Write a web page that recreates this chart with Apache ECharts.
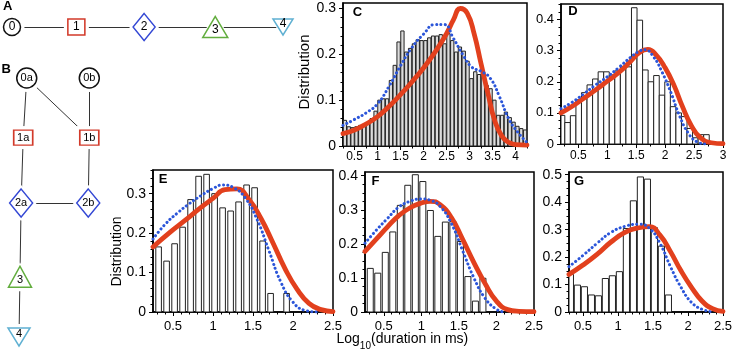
<!DOCTYPE html>
<html>
<head>
<meta charset="utf-8">
<script src="https://cdn.jsdelivr.net/npm/echarts@6.0.0/dist/echarts.min.js"></script>
<style>
html,body{margin:0;padding:0;background:#fff;}
#chart{width:733px;height:353px;}
</style>
</head>
<body>
<div id="chart"></div>
<script>
// ================= DATA =================
// --- Panel A: linear chain of states ---
const nodesA = ['0', '1', '2', '3', '4'];
const nodePosA = [0, 0.95, 1.95, 3, 4];
const nodeKindA = [0, 1, 2, 3, 4];
const linksA = [['0', '1'], ['1', '2'], ['2', '3'], ['3', '4']];

// --- Panel B: branched scheme ---
const nodesB = ['0a', '0b', '1a', '1b', '2a', '2b', '3', '4'];
const nodeColumnB = [0.11, 1, 0.06, 1, 0.03, 0.985, 0.014, 0];
const nodeLevelB = [0, 0, 0.92, 0.92, 1.93, 1.93, 3.07, 4];
const nodeKindB = [0, 0, 1, 1, 2, 2, 3, 4];
const linksB = [['0a', '1a'], ['0a', '1b'], ['0b', '1b'], ['1a', '2a'], ['1b', '2b'], ['2a', '2b'], ['2a', '3'], ['3', '4']];

// --- Panel C ---
const binStartC = 0.25, binWidthC = 1 / 12;
const histC = [0.056, 0.042, 0.040, 0.042, 0.045, 0.046, 0.050, 0.060,
  0.076, 0.100, 0.103, 0.103, 0.143, 0.176, 0.227, 0.251,
  0.205, 0.213, 0.223, 0.232, 0.230, 0.230, 0.236, 0.240,
  0.240, 0.243, 0.223, 0.245, 0.230, 0.205, 0.216, 0.207,
  0.185, 0.147, 0.162, 0.156, 0.160, 0.132, 0.125, 0.100,
  0.067, 0.067, 0.074, 0.062, 0.052, 0.043, 0.038, 0.035];
const redC = [[0.25, 0.027], [0.5, 0.035], [0.75, 0.048], [1.0, 0.064], [1.25, 0.086], [1.5, 0.112], [1.75, 0.14], [2.0, 0.17], [2.25, 0.205], [2.5, 0.245], [2.65, 0.275], [2.8, 0.3], [2.95, 0.29], [3.1, 0.245], [3.25, 0.18], [3.4, 0.115], [3.55, 0.055], [3.7, 0.022], [3.85, 0.008], [4.0, 0.003], [4.25, 0.002]];
const blueC = [[0.25, 0.045], [0.5, 0.058], [0.75, 0.072], [1.0, 0.092], [1.25, 0.13], [1.5, 0.175], [1.75, 0.215], [2.0, 0.244], [2.25, 0.265], [2.45, 0.265], [2.65, 0.235], [2.85, 0.2], [3.05, 0.172], [3.25, 0.163], [3.45, 0.148], [3.65, 0.108], [3.85, 0.06], [4.05, 0.03], [4.25, 0.008]];
const xTicksC = [0.5, 1, 1.5, 2, 2.5, 3, 3.5, 4];
const yTicksC = [0, 0.1, 0.2, 0.3];

// --- Panel D ---
const binStartD = 0.17, binWidthD = 0.096;
const histD = [0.092, 0.069, 0.091, 0.142, 0.165, 0.19, 0.209, 0.232, 0.232, 0.222,
  0.235, 0.248, 0.248, 0.438, 0.398, 0.238, 0.2, 0.22, 0.157, 0.2,
  0.12, 0.1, 0.088, 0.05, 0.02, 0.03, 0.03];
const redD = [[0.2, 0.1], [0.4, 0.122], [0.6, 0.148], [0.8, 0.174], [1.0, 0.202], [1.2, 0.23], [1.4, 0.265], [1.55, 0.293], [1.7, 0.304], [1.85, 0.285], [2.0, 0.245], [2.15, 0.19], [2.3, 0.12], [2.45, 0.06], [2.6, 0.022], [2.8, 0.004], [3.0, 0.001]];
const blueD = [[0.2, 0.114], [0.4, 0.135], [0.6, 0.162], [0.8, 0.19], [1.0, 0.216], [1.2, 0.246], [1.4, 0.278], [1.55, 0.298], [1.65, 0.303], [1.8, 0.28], [1.95, 0.23], [2.1, 0.165], [2.25, 0.09], [2.4, 0.035], [2.55, 0.007], [2.7, 0]];
const xTicksD = [0.5, 1, 1.5, 2, 2.5, 3];
const yTicksD = [0, 0.1, 0.2, 0.3, 0.4];

// --- Panel E ---
const binStartE = 0.27, binWidthE = 0.1;
const histE = [0.165, 0.129, 0.173, 0.215, 0.285, 0.344, 0.349, 0.30, 0.264, 0.256, 0.279, 0.322, 0.315, 0.18, 0.047, 0, 0.047];
const redE = [[0.25, 0.165], [0.45, 0.2], [0.65, 0.232], [0.85, 0.265], [1.0, 0.288], [1.15, 0.31], [1.3, 0.312], [1.45, 0.285], [1.6, 0.237], [1.75, 0.175], [1.9, 0.11], [2.05, 0.058], [2.2, 0.022], [2.35, 0.006], [2.5, 0.001]];
const blueE = [[0.25, 0.185], [0.4, 0.222], [0.55, 0.25], [0.7, 0.274], [0.85, 0.295], [1.0, 0.313], [1.12, 0.322], [1.25, 0.316], [1.4, 0.29], [1.55, 0.235], [1.7, 0.155], [1.85, 0.075], [2.0, 0.025], [2.15, 0.004], [2.3, 0]];
const xTicksE = [0.5, 1, 1.5, 2, 2.5];
const yTicksE = [0, 0.1, 0.2, 0.3];

// --- Panel F ---
const binStartF = 0.27, binWidthF = 0.1;
const histF = [0.128, 0.114, 0.175, 0.235, 0.313, 0.372, 0.403, 0.383, 0.298, 0.222, 0.264, 0.266, 0.207, 0.104, 0.032, 0.099];
const redF = [[0.25, 0.178], [0.4, 0.214], [0.55, 0.25], [0.7, 0.283], [0.85, 0.306], [1.0, 0.32], [1.12, 0.325], [1.25, 0.315], [1.4, 0.277], [1.55, 0.213], [1.7, 0.145], [1.85, 0.083], [2.0, 0.032], [2.15, 0.007], [2.3, 0.002], [2.5, 0.001]];
const blueF = [[0.25, 0.202], [0.4, 0.24], [0.55, 0.275], [0.7, 0.308], [0.85, 0.325], [1.0, 0.332], [1.12, 0.328], [1.25, 0.31], [1.4, 0.26], [1.55, 0.18], [1.7, 0.1], [1.85, 0.04], [2.0, 0.008], [2.1, 0]];
const xTicksF = [0.5, 1, 1.5, 2, 2.5];
const yTicksF = [0, 0.1, 0.2, 0.3, 0.4];

// --- Panel G ---
const binStartG = 0.27, binWidthG = 0.1;
const histG = [0.137, 0.098, 0.092, 0.062, 0.059, 0.122, 0.132, 0.147, 0.304, 0.405, 0.492, 0.484, 0.307, 0.24, 0.062];
const redG = [[0.3, 0.137], [0.5, 0.171], [0.7, 0.21], [0.9, 0.255], [1.1, 0.29], [1.3, 0.307], [1.45, 0.311], [1.6, 0.28], [1.75, 0.22], [1.9, 0.15], [2.05, 0.09], [2.2, 0.04], [2.35, 0.012], [2.5, 0.002]];
const blueG = [[0.3, 0.165], [0.5, 0.206], [0.7, 0.25], [0.9, 0.29], [1.1, 0.312], [1.3, 0.32], [1.45, 0.305], [1.6, 0.25], [1.75, 0.165], [1.9, 0.09], [2.05, 0.035], [2.2, 0.01], [2.35, 0]];
const xTicksG = [0.5, 1, 1.5, 2, 2.5];
const yTicksG = [0, 0.1, 0.2, 0.3, 0.4, 0.5];

const yAxisTitle = 'Distribution';
const xTitleParts = ['Log', '10', '(duration in ms)'];

// ================= STYLE / LAYOUT =================
const FONT = '"Liberation Sans", Arial, Helvetica, sans-serif';
const RED = '#e2401d';
const BLUE = '#2b55d9';

const panels = [
  { letter: 'C', box: { left: 343, top: 3, width: 184, height: 143 }, xr: [0.25, 4.25], ymax: 0.312,
    xTicks: xTicksC, yTicks: yTicksC, xMinor: 0.25, yMinor: 0.02, binStart: binStartC, binWidth: binWidthC,
    hist: histC, red: redC, blue: blueC, barFrac: 0.86, barFill: '#dcdcdc', xFont: 12, yFont: 14, xMargin: 5, letterPos: [357.5, 12.5] },
  { letter: 'D', box: { left: 561, top: 4, width: 162, height: 140 }, xr: [0.2, 3.0], ymax: 0.45,
    xTicks: xTicksD, yTicks: yTicksD, xMinor: 0.25, yMinor: 0.025, binStart: binStartD, binWidth: binWidthD,
    hist: histD, red: redD, blue: blueD, barFrac: 1, barFill: '#fff', xFont: 12, yFont: 13, xMargin: 6, letterPos: [573, 11.5] },
  { letter: 'E', box: { left: 153, top: 170, width: 180, height: 142 }, xr: [0.25, 2.5], ymax: 0.36,
    xTicks: xTicksE, yTicks: yTicksE, xMinor: 0.1, yMinor: 0.02, binStart: binStartE, binWidth: binWidthE,
    hist: histE, red: redE, blue: blueE, barFrac: 0.7, barFill: '#fff', xFont: 13, yFont: 14, xMargin: 8, letterPos: [163, 179.5] },
  { letter: 'F', box: { left: 365, top: 172, width: 169, height: 140 }, xr: [0.25, 2.5], ymax: 0.411,
    xTicks: xTicksF, yTicks: yTicksF, xMinor: 0.1, yMinor: 0.025, binStart: binStartF, binWidth: binWidthF,
    hist: histF, red: redF, blue: blueF, barFrac: 0.8, barFill: '#fff', xFont: 13, yFont: 14, xMargin: 8, letterPos: [375.5, 181] },
  { letter: 'G', box: { left: 569, top: 172, width: 154, height: 140 }, xr: [0.3, 2.5], ymax: 0.51,
    xTicks: xTicksG, yTicks: yTicksG, xMinor: 0.1, yMinor: 0.025, binStart: binStartG, binWidth: binWidthG,
    hist: histG, red: redG, blue: blueG, barFrac: 0.88, barFill: '#fff', xFont: 13, yFont: 14, xMargin: 8, letterPos: [579, 181] }
];

function stepValues(lo, hi, step) {
  const out = [];
  const k0 = Math.ceil(lo / step - 1e-9), k1 = Math.floor(hi / step + 1e-9);
  for (let k = k0; k <= k1; k++) out.push(+(k * step).toFixed(6));
  return out;
}
const fmt = v => String(Math.round(v * 1000) / 1000);

const option = {
  animation: false,
  backgroundColor: '#fff',
  textStyle: { fontFamily: FONT },
  grid: [], xAxis: [], yAxis: [], series: [], graphic: []
};

panels.forEach((p, i) => {
  option.grid.push(Object.assign({ show: true, borderColor: '#000', borderWidth: 1.5,
    backgroundColor: 'rgba(0,0,0,0)', outerBoundsMode: 'none', containLabel: false }, p.box));
  const xi = option.xAxis.length, yi = option.yAxis.length;
  option.xAxis.push({ gridIndex: i, type: 'value', min: p.xr[0], max: p.xr[1], position: 'bottom',
    axisLine: { show: true, onZero: false, lineStyle: { color: '#000', width: 1.5 } },
    axisTick: { show: true, customValues: p.xTicks, length: 4, lineStyle: { color: '#000', width: 1 } },
    axisLabel: { customValues: p.xTicks, color: '#000', fontSize: p.xFont, margin: p.xMargin, fontFamily: FONT, formatter: fmt },
    splitLine: { show: false } });
  option.xAxis.push({ gridIndex: i, type: 'value', min: p.xr[0], max: p.xr[1], position: 'bottom',
    axisLine: { show: false },
    axisTick: { show: true, customValues: stepValues(p.xr[0], p.xr[1], p.xMinor), length: 2.5, lineStyle: { color: '#000', width: 1 } },
    axisLabel: { show: false }, splitLine: { show: false } });
  option.yAxis.push({ gridIndex: i, type: 'value', min: 0, max: p.ymax, position: 'left',
    axisLine: { show: true, onZero: false, lineStyle: { color: '#000', width: 1.5 } },
    axisTick: { show: true, customValues: p.yTicks, length: 4, lineStyle: { color: '#000', width: 1 } },
    axisLabel: { customValues: p.yTicks, color: '#000', fontSize: p.yFont, margin: 7, fontFamily: FONT, formatter: fmt },
    splitLine: { show: false } });
  option.yAxis.push({ gridIndex: i, type: 'value', min: 0, max: p.ymax, position: 'left',
    axisLine: { show: false },
    axisTick: { show: true, customValues: stepValues(0, p.ymax, p.yMinor), length: 2.5, lineStyle: { color: '#000', width: 1 } },
    axisLabel: { show: false }, splitLine: { show: false } });

  option.series.push({
    type: 'custom', xAxisIndex: xi, yAxisIndex: yi, clip: true, z: 2, silent: true,
    data: p.hist.map((h, k) => [p.binStart + k * p.binWidth, p.binStart + (k + 1) * p.binWidth, h]),
    encode: { x: [0, 1], y: 2 },
    renderItem: (params, api) => {
      const a = api.value(0), b = api.value(1), h = api.value(2);
      if (!(h > 0)) return;
      const pad = (b - a) * (1 - p.barFrac) / 2;
      const tl = api.coord([a + pad, h]), br = api.coord([b - pad, 0]);
      const cs = params.coordSys;
      const r = echarts.graphic.clipRectByRect(
        { x: tl[0], y: tl[1], width: br[0] - tl[0], height: br[1] - tl[1] },
        { x: cs.x, y: cs.y, width: cs.width, height: cs.height });
      if (!r) return;
      return { type: 'rect', shape: r, style: { fill: p.barFill, stroke: '#222', lineWidth: 1 } };
    }
  });
  option.series.push({ type: 'line', xAxisIndex: xi, yAxisIndex: yi, data: p.red, smooth: 0.5,
    showSymbol: false, symbol: 'none', clip: true, z: 3, silent: true,
    lineStyle: { color: RED, width: 4.8, cap: 'round', join: 'round' } });
  option.series.push({ type: 'line', xAxisIndex: xi, yAxisIndex: yi, data: p.blue, smooth: 0.5,
    showSymbol: false, symbol: 'none', clip: true, z: 4, silent: true,
    lineStyle: { color: BLUE, width: 3, type: [0.1, 4.2], cap: 'round' } });

  option.graphic.push({ type: 'text', x: p.letterPos[0], y: p.letterPos[1], silent: true, z: 100,
    style: { text: p.letter, font: 'bold 13px ' + FONT, fill: '#000', align: 'center', verticalAlign: 'middle' } });
});

// ---- network diagrams ----
const shapes = [
  { symbol: 'circle', color: '#111' },
  { symbol: 'rect', color: '#d23a2a' },
  { symbol: 'diamond', color: '#3347d4' },
  { symbol: 'triangle', color: '#62ad3e' },
  { symbol: 'path://M0,0L20,0L10,16Z', color: '#5fb0d2' }
];
const sizesA = [[17, 17], [17, 16], [22, 27], [25, 21], [20, 16]];
const sizesB = [[20, 20], [19, 15], [23, 28], [23, 21], [22, 18]];
const labelOffsets = [[0, 0], [0, 0], [0, 0], [0, 3], [0, -3]];

function addNetwork(names, xs, ys, kinds, links, sizes, fontSize) {
  const xi = option.xAxis.length, yi = option.yAxis.length;
  option.series.push({
    type: 'graph', coordinateSystem: 'cartesian2d', xAxisIndex: xi, yAxisIndex: yi, z: 2, silent: true,
    data: names.map((n, i) => ({ name: n, value: [xs[i], ys[i]], symbol: shapes[kinds[i]].symbol,
      symbolSize: sizes[kinds[i]].map(s => s + 8), itemStyle: { color: '#fff', borderWidth: 0 } })),
    links: links.map(l => ({ source: l[0], target: l[1] })),
    lineStyle: { color: '#333', width: 1, opacity: 1, curveness: 0 },
    label: { show: false }, emphasis: { disabled: true }
  });
  option.series.push({
    type: 'scatter', xAxisIndex: xi, yAxisIndex: yi, z: 3, silent: true,
    data: names.map((n, i) => ({ name: n, value: [xs[i], ys[i]], symbol: shapes[kinds[i]].symbol,
      symbolSize: sizes[kinds[i]],
      itemStyle: { color: '#fff', borderColor: shapes[kinds[i]].color, borderWidth: 1.5, opacity: 1 },
      label: { show: true, position: 'inside', formatter: '{b}', color: '#000', fontSize: fontSize,
        fontFamily: FONT, offset: labelOffsets[kinds[i]] } })),
    emphasis: { disabled: true }
  });
}

option.grid.push({ left: 12, top: 17, width: 271, height: 20, show: false, outerBoundsMode: 'none' });
addNetwork(nodesA, nodePosA, nodesA.map(() => 0), nodeKindA, linksA, sizesA, 12);
option.xAxis.push({ gridIndex: 5, type: 'value', min: 0, max: 4, show: false });
option.yAxis.push({ gridIndex: 5, type: 'value', min: -1, max: 1, show: false });

option.grid.push({ left: 19, top: 78, width: 70.3, height: 259, show: false, outerBoundsMode: 'none' });
addNetwork(nodesB, nodeColumnB, nodeLevelB, nodeKindB, linksB, sizesB, 11);
option.xAxis.push({ gridIndex: 6, type: 'value', min: 0, max: 1, show: false });
option.yAxis.push({ gridIndex: 6, type: 'value', min: 0, max: 4, inverse: true, show: false });

// ---- texts ----
option.graphic.push({ type: 'text', x: 7.7, y: 6.3, silent: true,
  style: { text: 'A', font: 'bold 13px ' + FONT, fill: '#000', align: 'center', verticalAlign: 'middle' } });
option.graphic.push({ type: 'text', x: 6.3, y: 69, silent: true,
  style: { text: 'B', font: 'bold 13px ' + FONT, fill: '#000', align: 'center', verticalAlign: 'middle' } });
option.graphic.push({ type: 'text', x: 305, y: 72, rotation: Math.PI / 2, silent: true,
  style: { text: yAxisTitle, font: '15px ' + FONT, fill: '#000', align: 'center', verticalAlign: 'middle' } });
option.graphic.push({ type: 'text', x: 117.5, y: 251.5, rotation: Math.PI / 2, silent: true,
  style: { text: yAxisTitle, font: '14px ' + FONT, fill: '#000', align: 'center', verticalAlign: 'middle' } });

const ctx = document.createElement('canvas').getContext('2d');
function textW(t, f) { ctx.font = f; return ctx.measureText(t).width; }
const f14 = '14px ' + FONT, f10 = '10px ' + FONT;
let tx = 336.5;
option.graphic.push({ type: 'text', x: tx, y: 339.5, silent: true,
  style: { text: xTitleParts[0], font: f14, fill: '#000', align: 'left', verticalAlign: 'middle' } });
tx += textW(xTitleParts[0], f14);
option.graphic.push({ type: 'text', x: tx, y: 346.5, silent: true,
  style: { text: xTitleParts[1], font: f10, fill: '#000', align: 'left', verticalAlign: 'middle' } });
tx += textW(xTitleParts[1], f10);
option.graphic.push({ type: 'text', x: tx, y: 339.5, silent: true,
  style: { text: xTitleParts[2], font: f14, fill: '#000', align: 'left', verticalAlign: 'middle' } });

const chart = echarts.init(document.getElementById('chart'), null, { renderer: 'canvas' });
chart.setOption(option);
</script>
</body>
</html>
